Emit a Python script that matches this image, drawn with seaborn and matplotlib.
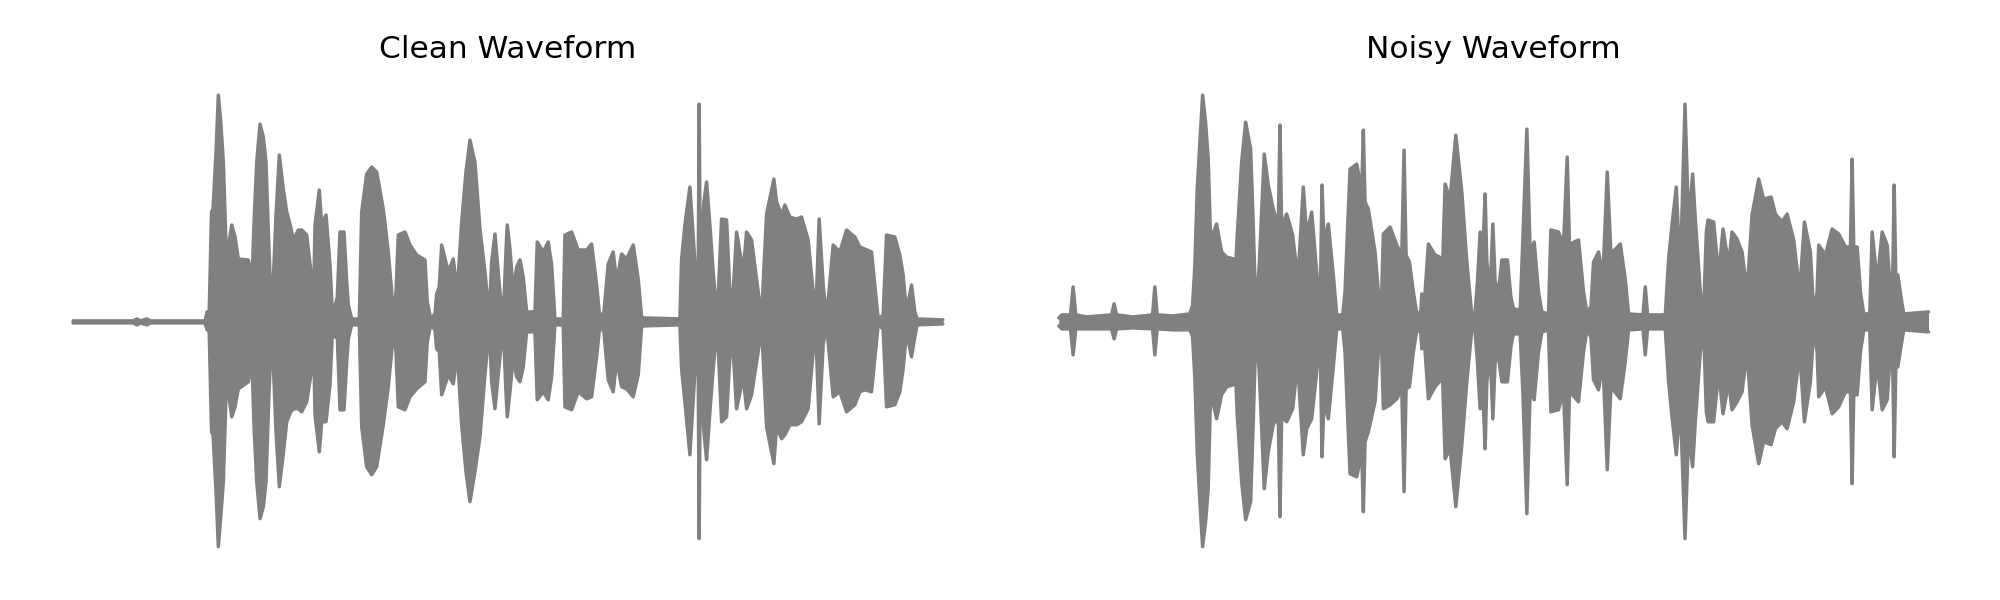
import numpy as np
import pandas as pd
import matplotlib
matplotlib.use("Agg")
import matplotlib.pyplot as plt
import seaborn as sns

# ---- Data: waveform envelopes (time in frames, amplitude in arbitrary units)
clean_t = [0, 60, 64, 67, 74, 77, 132, 134, 136, 138.5, 140, 143, 145.3, 147.7, 150.3, 153, 155.3, 158.7, 162,
           165.3, 175.3, 177.7, 179, 181, 183.7, 187, 190.3, 193, 195.3, 198.7, 201, 203, 206.3, 209.7, 213.7,
           217.7, 220.3, 225.3, 228.7, 233.7, 238.7, 240.3, 242, 246.3, 248.7, 253, 257, 259.7, 262, 264.3, 267,
           271, 273.7, 275.3, 278.7, 286.3, 288.7, 293.7, 298.7, 303.7, 310.3, 315.3, 318.7, 320.3, 323, 325.3,
           332, 337, 343.7, 352, 354.3, 357.7, 362, 363.7, 366.3, 368.7, 375.3, 380.3, 384.3, 388.7, 393, 397,
           402, 407, 412, 416.3, 418.7, 422, 427, 430.3, 433, 434.3, 437, 440.3, 443.7, 447, 450.3, 453.7, 462,
           464.3, 470.3, 475.3, 478.7, 482, 490.3, 492, 498.7, 505.3, 513.7, 518.7, 523.7, 527, 531, 535.3, 540.3,
           543.7, 548.7, 553.7, 560.3, 565.3, 568.7, 570, 607, 608.7, 612, 617, 622, 625.3, 626.3, 627.3, 631,
           633.7, 637, 640.3, 644.3, 648.7, 653.7, 657, 660.3, 663.7, 670.3, 673.7, 678.7, 685.3, 688.7, 693.7,
           701, 703.7, 708.7, 712, 717, 723.7, 728.7, 735.3, 740.3, 743.7, 746.3, 750.3, 753.7, 760.3, 767, 773.7,
           782, 787, 792, 798.7, 802, 805.3, 810.3, 813.7, 822, 827, 830.3, 833.7, 838.7, 842, 844.3, 870]
clean_upper = [1, 1, 3, 1, 3, 1, 1, 10, 3, 110, 113, 170, 227, 200, 160, 77, 75, 97, 85,
               63, 62, 50, 40, 100, 160, 198, 185, 160, 90, 3, 60, 107, 167, 137, 110,
               95, 82, 92, 92, 87, 43, 5, 97, 132, 97, 107, 57, 3, 15, 25, 90,
               90, 40, 17, 3, 3, 110, 148, 155, 150, 113, 70, 30, 3, 30, 87,
               90, 77, 67, 62, 20, 3, 8, 28, 35, 77, 50, 63, 30, 100, 150, 182,
               160, 93, 50, 5, 60, 88, 30, 3, 70, 97, 73, 30, 55, 62, 45, 10, 10,
               80, 70, 80, 57, 3, 3, 87, 90, 72, 72, 78, 37, 3, 10, 58, 70,
               40, 68, 63, 77, 43, 5, 4, 3, 63, 97, 135, 60, 40, 218, 50, 120,
               140, 97, 50, 3, 103, 102, 30, 30, 90, 50, 90, 82, 30, 5, 108,
               143, 120, 107, 117, 105, 103, 105, 82, 30, 30, 103, 37, 3, 77, 70, 92,
               85, 75, 73, 70, 37, 3, 7, 87, 85, 67, 47, 10, 37, 10, 3, 2]
clean_lower = [1, 1, 3, 1, 3, 1, 1, 8, 3, 110, 113, 170, 225, 195, 160, 73, 70, 95, 85,
               67, 60, 45, 40, 105, 160, 197, 185, 160, 90, 3, 60, 110, 165, 137, 100,
               90, 87, 87, 90, 80, 47, 5, 93, 130, 100, 100, 63, 3, 15, 15, 88,
               88, 40, 17, 3, 3, 105, 145, 153, 145, 103, 65, 30, 3, 30, 85,
               88, 75, 67, 60, 20, 3, 8, 27, 30, 73, 53, 62, 30, 103, 150, 180,
               150, 115, 53, 5, 60, 87, 35, 3, 70, 95, 70, 35, 55, 60, 45, 10, 10,
               78, 70, 78, 55, 3, 3, 85, 88, 70, 77, 75, 35, 3, 10, 58, 70,
               38, 65, 67, 75, 53, 5, 4, 3, 47, 80, 133, 50, 40, 217, 50, 110,
               138, 90, 47, 3, 100, 95, 35, 30, 87, 55, 87, 73, 30, 5, 105,
               142, 105, 117, 113, 103, 103, 100, 87, 30, 30, 102, 23, 3, 75, 70, 90,
               83, 70, 68, 70, 37, 3, 7, 85, 83, 70, 47, 10, 35, 15, 3, 2]

noisy_t = [0, 3, 11.7, 14.3, 17, 27.7, 52.7, 55.3, 57.7, 74.3, 93.7, 96, 98.3, 114.3, 131, 133.7, 136, 138.3,
           141, 143.7, 146.7, 149.3, 151.7, 157.7, 162.7, 167.7, 174.3, 176.3, 178.3, 182.7, 186.7, 191.7, 194.3,
           197, 200.3, 205.3, 209.3, 214.3, 219.3, 221, 222.7, 227.7, 233.7, 238.7, 241, 244.3, 247.7, 252.7,
           257.7, 260, 261.7, 263, 265, 269.3, 274.3, 277.7, 283.7, 286, 291, 297.7, 302.7, 304.3, 306, 309.3,
           316, 319.3, 321, 322.7, 324.3, 331, 337.7, 342.7, 345, 347, 350.3, 354.3, 357.7, 361.7, 362.7, 365,
           369.3, 376, 380.3, 382.7, 386, 391, 396.7, 402.7, 407.7, 412.7, 416, 418.3, 421, 424.3, 426, 427.7,
           431, 433.7, 436, 439.3, 442.7, 448.3, 451.7, 454.3, 461, 463.7, 467.7, 471, 475, 479.3, 482.7, 489.3,
           491.7, 499.3, 504.3, 508, 510.3, 515, 519.3, 524.3, 527.7, 531.7, 534.3, 539.3, 543.7, 548, 551.7,
           561, 566, 569.3, 583.7, 586, 588.3, 606, 609.3, 612.7, 617, 621, 625.7, 629.3, 633.3, 636, 641,
           644.3, 647, 648.7, 654.3, 659.3, 663.7, 669.3, 672.7, 677.7, 682.7, 687.7, 692.7, 699.3, 704.3,
           711.7, 716, 722.7, 727.7, 734.3, 740.3, 745, 751, 754.3, 757.7, 759.3, 766, 772.7, 779.3, 786, 791,
           792.7, 794.3, 797.7, 801, 804.3, 810.3, 812.7, 817.7, 822.7, 827.7, 831, 833, 834.7, 836.3, 838.3,
           842.7, 844.3, 869]
noisy_upper = [4, 7, 7, 35, 7, 5, 7, 18, 7, 5, 7, 35, 7, 6, 8, 17, 57, 133,
               180, 227, 200, 163, 82, 98, 70, 65, 63, 45, 87, 160, 200, 173, 97,
               7, 57, 168, 137, 113, 95, 197, 95, 108, 87, 43, 77, 135, 87, 110,
               50, 7, 50, 137, 80, 98, 47, 7, 7, 30, 153, 158, 130, 192, 120, 113,
               70, 30, 7, 30, 88, 95, 77, 67, 172, 67, 60, 30, 8, 10, 28, 15,
               78, 67, 65, 30, 138, 123, 187, 130, 60, 7, 10, 40, 90, 85, 128, 60,
               30, 98, 40, 30, 62, 62, 25, 13, 12, 83, 193, 67, 80, 30, 10, 8,
               92, 90, 77, 165, 77, 80, 82, 30, 10, 15, 60, 70, 45, 150, 68,
               78, 43, 8, 7, 35, 7, 7, 63, 97, 135, 47, 218, 97, 148, 103, 30,
               8, 90, 102, 100, 47, 93, 57, 90, 83, 70, 30, 107, 143, 123,
               125, 108, 100, 108, 82, 30, 100, 70, 8, 30, 77, 67, 93, 88, 75, 75,
               163, 75, 75, 30, 8, 8, 90, 40, 90, 77, 30, 30, 137, 45, 47,
               17, 8, 10]
noisy_lower = [4, 7, 7, 33, 7, 7, 7, 17, 7, 6, 7, 33, 7, 8, 8, 15, 57, 130,
               180, 225, 200, 167, 70, 97, 73, 65, 63, 45, 93, 160, 198, 180, 100,
               7, 50, 167, 130, 103, 95, 195, 95, 100, 87, 40, 80, 133, 107, 97,
               50, 7, 50, 135, 80, 97, 45, 7, 7, 30, 152, 155, 130, 190, 120, 110,
               80, 30, 7, 30, 87, 83, 77, 67, 170, 67, 65, 30, 8, 10, 27, 15,
               77, 65, 60, 30, 137, 127, 185, 123, 60, 7, 10, 40, 87, 85, 127, 60,
               30, 97, 40, 35, 60, 60, 25, 12, 12, 70, 192, 67, 78, 30, 10, 8,
               90, 88, 70, 163, 70, 75, 80, 30, 8, 15, 58, 68, 40, 148, 65,
               77, 40, 8, 7, 33, 7, 7, 60, 95, 133, 80, 217, 110, 145, 100, 30,
               8, 90, 100, 100, 50, 92, 60, 88, 80, 70, 30, 103, 142, 120,
               123, 107, 100, 107, 80, 30, 100, 60, 8, 30, 75, 65, 92, 85, 70, 70,
               162, 73, 73, 30, 8, 8, 88, 40, 88, 78, 30, 30, 135, 45, 45,
               17, 8, 10]

titles = ["Clean Waveform", "Noisy Waveform"]

sns.set_theme(style="white")
plt.rcParams['font.family'] = ['DejaVu Sans']

fig, axes = plt.subplots(1, 2, figsize=(20, 6), dpi=100)
fig.subplots_adjust(left=0.0148, right=0.986, bottom=0.049, top=0.878, wspace=0.0303)

series = [(clean_t, clean_upper, clean_lower), (noisy_t, noisy_upper, noisy_lower)]
for ax, (t, up, lo), title in zip(axes, series, titles):
    t = np.asarray(t, dtype=float)
    up = np.asarray(up, dtype=float)
    lo = -np.asarray(lo, dtype=float)
    df = pd.DataFrame({"t": t, "up": up, "lo": lo})
    ax.fill_between(df["t"], df["up"], df["lo"], color="gray", lw=0)
    sns.lineplot(data=df, x="t", y="up", color="gray", lw=2.5, estimator=None, ax=ax,
                 solid_capstyle="round", solid_joinstyle="round")
    sns.lineplot(data=df, x="t", y="lo", color="gray", lw=2.5, estimator=None, ax=ax,
                 solid_capstyle="round", solid_joinstyle="round")
    ax.set_xlim(t.min() - 0.05 * (t.max() - t.min()), t.max() + 0.05 * (t.max() - t.min()))
    ax.set_ylim(-249, 249)
    ax.set_title(title, fontsize=22.5, pad=11, color="black")
    ax.axis("off")

fig.savefig("out.png", dpi=100)
